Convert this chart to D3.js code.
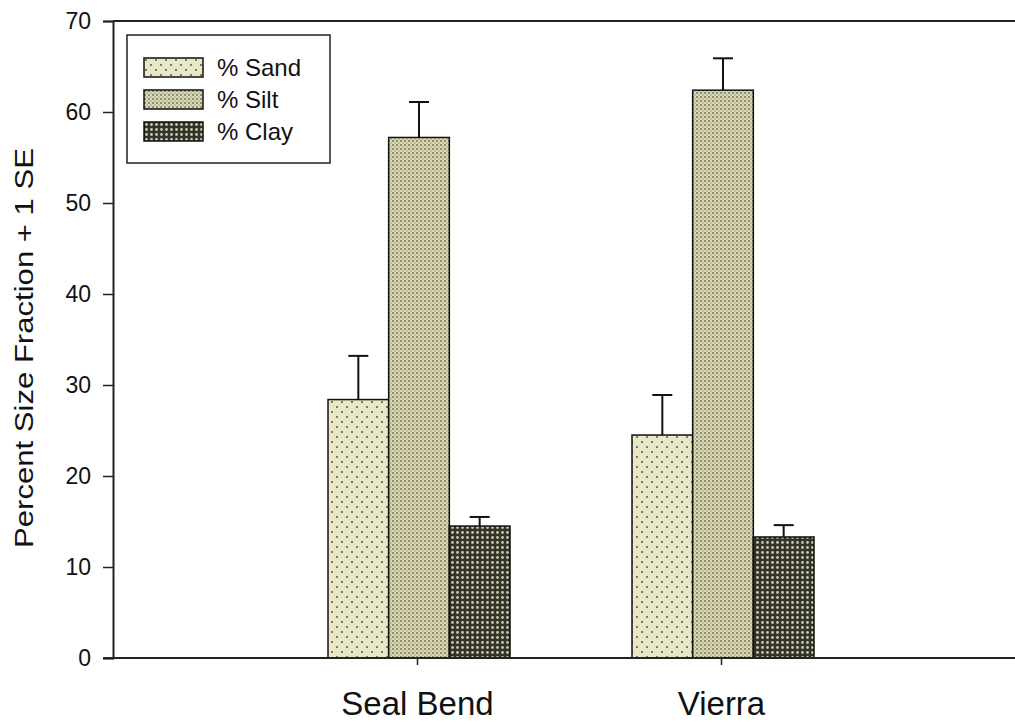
<!DOCTYPE html>
<html>
<head>
<meta charset="utf-8">
<script src="https://cdn.jsdelivr.net/npm/d3@7"></script>
<style>
  body { margin: 0; background: #fff; }
  text { font-family: Arial, "Liberation Sans", sans-serif; fill: #111; }
</style>
</head>
<body>
<svg id="chart" width="1015" height="725"></svg>
<script>
const sites = ['Seal Bend', 'Vierra'];
const fractions = ['% Sand', '% Silt', '% Clay'];
const sandMean = [28.4, 24.5];
const siltMean = [57.2, 62.4];
const clayMean = [14.5, 13.3];
const sandSE = [4.8, 4.4];
const siltSE = [3.9, 3.5];
const claySE = [1.0, 1.3];
const yTicks = [0, 10, 20, 30, 40, 50, 60, 70];

const svg = d3.select('#chart');
const plotL = 113, plotT = 21, plotB = 658, plotR = 1025;

const x = d3.scalePoint().domain(sites).range([plotL, plotR]).padding(1);
const y = d3.scaleLinear().domain([0, 70]).range([plotB, plotT]);
const sub = d3.scaleBand().domain(fractions).range([-89, 93]).padding(0);

// fill patterns
const defs = svg.append('defs');
const sand = defs.append('pattern').attr('id', 'sand')
  .attr('patternUnits', 'userSpaceOnUse').attr('width', 10).attr('height', 10);
sand.append('rect').attr('width', 10).attr('height', 10).attr('fill', '#e9e8c6');
sand.append('circle').attr('cx', 2).attr('cy', 2).attr('r', 1).attr('fill', '#555');
sand.append('circle').attr('cx', 7).attr('cy', 7).attr('r', 1).attr('fill', '#555');

const silt = defs.append('pattern').attr('id', 'silt')
  .attr('patternUnits', 'userSpaceOnUse').attr('width', 4).attr('height', 4);
silt.append('rect').attr('width', 4).attr('height', 4).attr('fill', '#dcdab4');
silt.append('circle').attr('cx', 1).attr('cy', 1).attr('r', 0.9).attr('fill', '#6a6a55');
silt.append('circle').attr('cx', 3).attr('cy', 3).attr('r', 0.7).attr('fill', '#8a8a70');

const clay = defs.append('pattern').attr('id', 'clay')
  .attr('patternUnits', 'userSpaceOnUse').attr('width', 5).attr('height', 5);
clay.append('rect').attr('width', 5).attr('height', 5).attr('fill', '#33332a');
clay.append('circle').attr('cx', 2.5).attr('cy', 2.5).attr('r', 1.4).attr('fill', '#c8c8b0');

const fills = ['url(#sand)', 'url(#silt)', 'url(#clay)'];
const means = [sandMean, siltMean, clayMean];
const ses = [sandSE, siltSE, claySE];

const bars = [];
sites.forEach((s, i) => {
  fractions.forEach((f, j) => {
    bars.push({ site: s, frac: f, mean: means[j][i], se: ses[j][i], fill: fills[j] });
  });
});

// error bars (drawn first so the bar covers the stem base)
const eb = svg.append('g');
eb.selectAll('line.stem').data(bars).enter().append('line')
  .attr('x1', d => x(d.site) + sub(d.frac) + sub.bandwidth() / 2)
  .attr('x2', d => x(d.site) + sub(d.frac) + sub.bandwidth() / 2)
  .attr('y1', d => y(d.mean)).attr('y2', d => y(d.mean + d.se))
  .attr('stroke', '#111').attr('stroke-width', 2);
eb.selectAll('line.cap').data(bars).enter().append('line')
  .attr('x1', d => x(d.site) + sub(d.frac) + sub.bandwidth() / 2 - 10)
  .attr('x2', d => x(d.site) + sub(d.frac) + sub.bandwidth() / 2 + 10)
  .attr('y1', d => y(d.mean + d.se)).attr('y2', d => y(d.mean + d.se))
  .attr('stroke', '#111').attr('stroke-width', 2);

svg.append('g').selectAll('rect').data(bars).enter().append('rect')
  .attr('x', d => x(d.site) + sub(d.frac))
  .attr('y', d => y(d.mean))
  .attr('width', sub.bandwidth())
  .attr('height', d => y(0) - y(d.mean))
  .attr('fill', d => d.fill)
  .attr('stroke', '#111').attr('stroke-width', 1.5);

// axes
const yAxis = svg.append('g').attr('transform', `translate(${plotL},0)`)
  .call(d3.axisLeft(y).tickValues(yTicks).tickSize(10).tickPadding(12));
yAxis.select('.domain').attr('stroke', '#222').attr('stroke-width', 2);
yAxis.selectAll('.tick line').attr('stroke', '#222').attr('stroke-width', 1.5);
yAxis.selectAll('.tick text').attr('font-size', 23).attr('fill', '#111');

const xAxis = svg.append('g').attr('transform', `translate(0,${plotB})`)
  .call(d3.axisBottom(x).tickSize(7).tickPadding(27));
xAxis.select('.domain').attr('d', `M${plotL - 10},0H${plotR}`).attr('stroke', '#222').attr('stroke-width', 2);
xAxis.selectAll('.tick line').attr('stroke', '#222').attr('stroke-width', 1.5);
xAxis.selectAll('.tick text').attr('font-size', 33).attr('fill', '#111');

// top frame line
svg.append('line').attr('x1', plotL).attr('x2', plotR).attr('y1', plotT).attr('y2', plotT)
  .attr('stroke', '#222').attr('stroke-width', 2);

// y label
svg.append('text')
  .attr('transform', 'translate(33,348) rotate(-90)')
  .attr('text-anchor', 'middle').attr('font-size', 26)
  .attr('textLength', 400).attr('lengthAdjust', 'spacingAndGlyphs')
  .text('Percent Size Fraction + 1 SE');

// legend
const lg = svg.append('g').attr('transform', 'translate(127,35)');
lg.append('rect').attr('width', 203).attr('height', 128)
  .attr('fill', '#fff').attr('stroke', '#222').attr('stroke-width', 1.5);
const li = lg.selectAll('g.item').data(fractions).enter().append('g')
  .attr('transform', (d, i) => `translate(17,${23 + i * 32})`);
li.append('rect').attr('width', 59).attr('height', 19)
  .attr('fill', (d, i) => fills[i]).attr('stroke', '#111').attr('stroke-width', 1.5);
li.append('text').attr('x', 73).attr('y', 18)
  .attr('font-size', 24).text(d => d);
</script>
</body>
</html>
